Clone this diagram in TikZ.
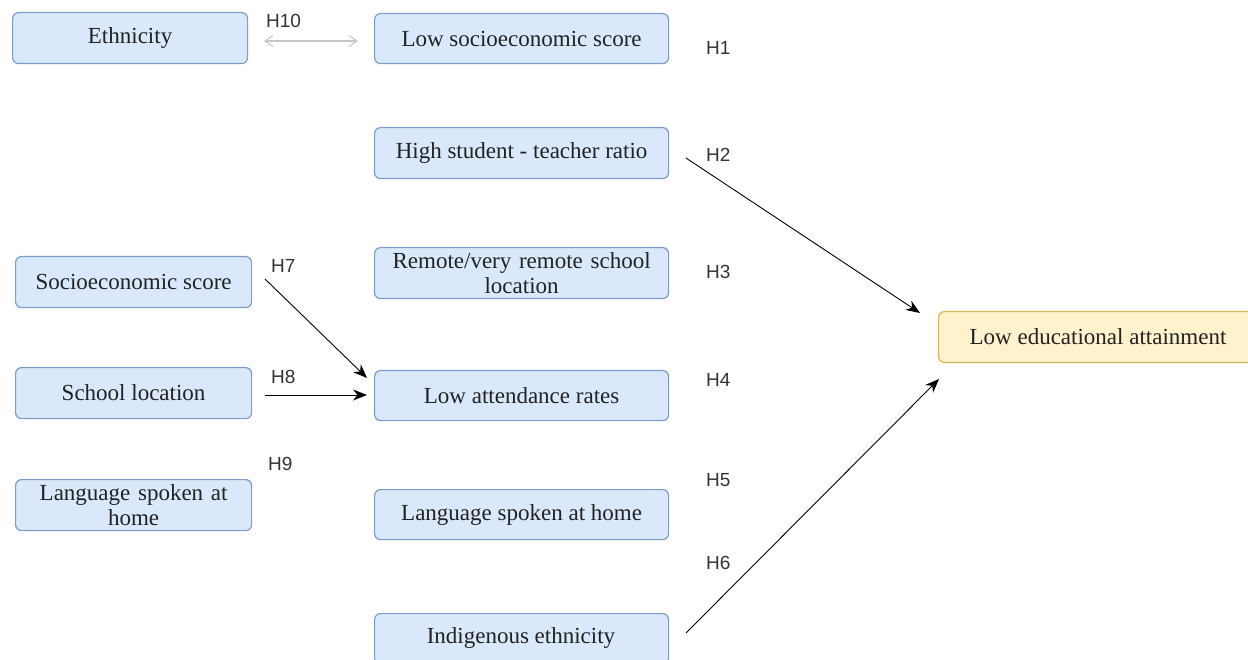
\documentclass[tikz,border=0pt]{standalone}
\usepackage{fontspec}
\setmainfont{Liberation Serif}
\newfontfamily\hlabel{Liberation Sans}
\usetikzlibrary{arrows.meta}
\definecolor{bfill}{HTML}{DAE8FC}
\definecolor{bline}{HTML}{7C9CCB}
\definecolor{yfill}{HTML}{FFF2CC}
\definecolor{yline}{HTML}{D6B656}
\definecolor{hgrey}{HTML}{333333}
\definecolor{btext}{HTML}{222222}
\tikzset{
  bfont/.style={font=\fontsize{23}{25}\selectfont, text=btext},
  bbox/.style={draw=bline, fill=bfill, rounded corners=6pt, line width=1.2pt, anchor=north west, inner sep=0pt, align=center, bfont},
  ybox/.style={bbox, draw=yline, fill=yfill},
  hl/.style={font=\hlabel\fontsize{19}{19}\selectfont, text=hgrey, anchor=west, inner sep=0pt},
  conn/.style={line width=0.9pt, -{Stealth[length=14pt,width=11pt]}},
  gconn/.style={line width=1.1pt, draw=black!22, {Straight Barb[length=8pt,width=11pt]}-{Straight Barb[length=8pt,width=11pt]}}
}
\begin{document}
\begin{tikzpicture}[x=1pt,y=-1pt]
\useasboundingbox (0,0) rectangle (1248,660);
% left column
\node[bbox, minimum width=235pt, minimum height=51pt] (eth) at (12,12) {Ethnicity};
\node[bbox, minimum width=236pt, minimum height=51pt] (ses) at (15,256) {Socioeconomic score};
\node[bbox, minimum width=236pt, minimum height=51pt] (loc) at (15,367) {School location};
\node[bbox, minimum width=236pt, minimum height=51pt, text width=232pt] (lang) at (15,479) {Language spoken at\\home};
% middle column
\node[bbox, minimum width=294pt, minimum height=50pt] (lses) at (374,13) {Low socioeconomic score};
\node[bbox, minimum width=294pt, minimum height=51pt] (str) at (374,127) {High student - teacher ratio};
\node[bbox, minimum width=294pt, minimum height=51pt, text width=290pt] (rem) at (374,247) {Remote/very remote school\\location};
\node[bbox, minimum width=294pt, minimum height=50pt] (att) at (374,370) {Low attendance rates};
\node[bbox, minimum width=294pt, minimum height=50pt] (mlang) at (374,489) {Language spoken at home};
\node[bbox, minimum width=294pt, minimum height=50pt] (ind) at (374,613) {};
\node[bfont, inner sep=0pt] (indt) at (521,638) {Indigenous ethnicity};
% right
\node[ybox, minimum width=330pt, minimum height=51pt] (out) at (938,311) {};
\node[bfont, inner sep=0pt] (outt) at (1098,336.5) {Low educational attainment};
% labels
\node[hl] (h10) at (266,21) {H10};
\node[hl] (h1) at (706,48) {H1};
\node[hl] (h2) at (706,155) {H2};
\node[hl] (h3) at (706,272) {H3};
\node[hl] (h4) at (706,380) {H4};
\node[hl] (h5) at (706,480) {H5};
\node[hl] (h6) at (706,563) {H6};
\node[hl] (h7) at (271,266) {H7};
\node[hl] (h8) at (271,377) {H8};
\node[hl] (h9) at (268,464) {H9};
% connector endpoints
\coordinate (g1) at (264,41);
\coordinate (g2) at (358,41);
\coordinate (a2s) at (686,158);
\coordinate (a2e) at (920,313);
\coordinate (a6s) at (686,633);
\coordinate (a6e) at (939,379);
\coordinate (a7s) at (265,279);
\coordinate (a7e) at (367,378);
\coordinate (a8s) at (265,395);
\coordinate (a8e) at (367,395);
\draw[gconn] (g1) -- (g2);
\draw[conn] (a2s) -- (a2e);
\draw[conn] (a6s) -- (a6e);
\draw[conn] (a7s) -- (a7e);
\draw[conn] (a8s) -- (a8e);
\end{tikzpicture}
\end{document}
